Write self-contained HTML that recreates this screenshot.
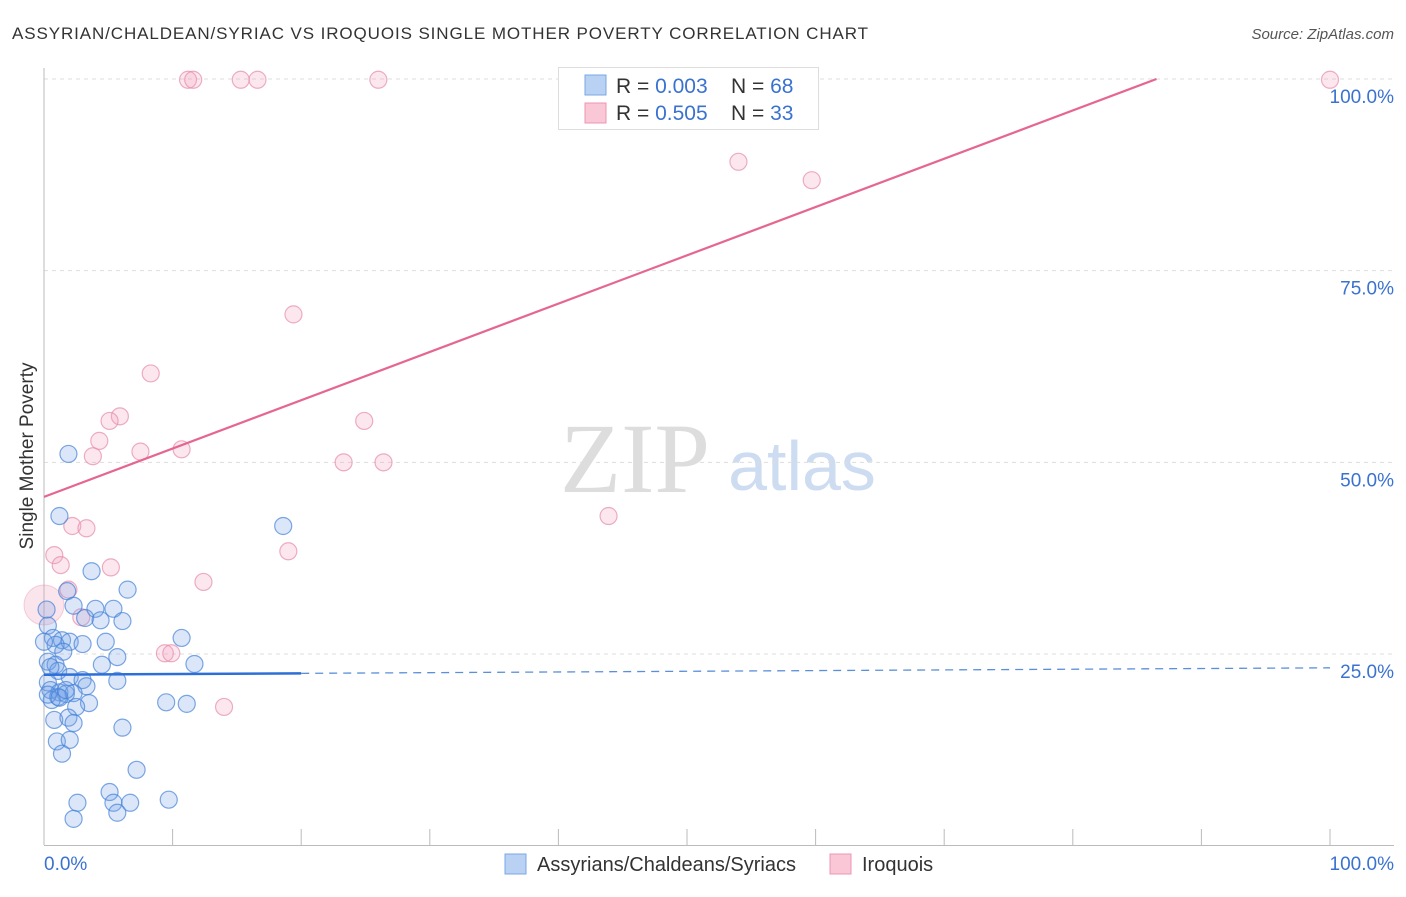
<!DOCTYPE html>
<html><head><meta charset="utf-8"><style>
body{margin:0;background:#fff;font-family:"Liberation Sans",sans-serif;}
svg text{font-family:"Liberation Sans",sans-serif;}
</style></head><body>
<svg id="chart" width="1406" height="892">
<text x="12" y="39" font-size="17" fill="#333" textLength="856">ASSYRIAN/CHALDEAN/SYRIAC VS IROQUOIS SINGLE MOTHER POVERTY CORRELATION CHART</text>
<text x="1394" y="39" font-size="15" fill="#555" font-style="italic" text-anchor="end">Source: ZipAtlas.com</text>
<text x="33" y="456" font-size="19" fill="#333" text-anchor="middle" transform="rotate(-90 33 456)">Single Mother Poverty</text>
<g><text x="635" y="492" font-size="100" fill="#ddd" text-anchor="middle" style="font-family:'Liberation Serif',serif">ZIP</text><text x="802" y="490" font-size="70" fill="#cddcf1" text-anchor="middle">atlas</text></g>
<g id="grid"></g><g id="ticks"></g><g id="pts"></g><g id="lines"></g>
<g>
<rect x="558.5" y="67.5" width="260" height="62" fill="#fff" stroke="#ddd"/>
<rect x="585" y="75" width="21" height="20" fill="#b9d2f4" stroke="#7ba7e6"/>
<rect x="585" y="103" width="21" height="20" fill="#f9c7d6" stroke="#ec95b0"/>
<text x="616" y="93" font-size="21" fill="#333">R = <tspan fill="#3a72d0">0.003</tspan></text>
<text x="731" y="93" font-size="21" fill="#333">N = <tspan fill="#3a72d0">68</tspan></text>
<text x="616" y="120" font-size="21" fill="#333">R = <tspan fill="#3a72d0">0.505</tspan></text>
<text x="731" y="120" font-size="21" fill="#333">N = <tspan fill="#3a72d0">33</tspan></text>
</g>
<g>
<rect x="505" y="854" width="21" height="20" fill="#b9d2f4" stroke="#7ba7e6"/>
<text x="537" y="871" font-size="20" fill="#333">Assyrians/Chaldeans/Syriacs</text>
<rect x="830" y="854" width="21" height="20" fill="#f9c7d6" stroke="#ec95b0"/>
<text x="862" y="871" font-size="20" fill="#333">Iroquois</text>
</g>
</svg>
<script>
const yTicks=[25,50,75,100];
const yTickLabels=["25.0%","50.0%","75.0%","100.0%"];
const xTickLabels=["0.0%","100.0%"];
const blueX=[1.9,1.2,3.7,6.5,1.8,2.3,4.0,5.4,3.2,4.4,6.1,0.3,0.7,1.4,2.0,0.9,3.0,4.8,10.7,1.5,5.7,0.3,0.9,4.5,11.7,1.1,2.0,3.0,0.3,3.3,5.7,0.5,1.2,1.7,2.3,1.1,0.6,3.5,2.5,9.5,11.1,0.8,1.9,2.3,6.1,1.0,2.0,1.4,7.2,5.1,2.6,5.4,6.7,9.7,2.3,5.7,18.6,0.2,0.3,0.5,0.0,1.2,1.7];
const blueY=[51.1,43.0,35.8,33.4,33.2,31.3,30.9,30.9,29.7,29.4,29.3,28.7,27.1,26.8,26.6,26.2,26.3,26.6,27.1,25.3,24.6,24.0,23.6,23.6,23.7,22.8,22.0,21.6,21.3,20.8,21.5,20.3,20.0,19.8,19.9,19.4,19.0,18.6,18.1,18.7,18.5,16.4,16.7,16.0,15.4,13.6,13.8,12.0,9.9,7.0,5.6,5.6,5.6,6.0,3.5,4.3,41.7,30.8,19.7,23.3,26.6,19.3,20.3];
const pinkX=[11.2,11.6,15.3,16.6,26.0,100,54.0,59.7,19.4,8.3,5.9,5.1,24.9,4.3,3.8,7.5,10.7,23.3,26.4,43.9,2.2,3.3,19.0,0.8,1.3,5.2,12.4,1.9,2.9,9.4,9.9,14.0];
const pinkY=[99.9,99.9,99.9,99.9,99.9,99.9,89.2,86.8,69.3,61.6,56.0,55.4,55.4,52.8,50.8,51.4,51.7,50.0,50.0,43.0,41.7,41.4,38.4,37.9,36.6,36.3,34.4,33.4,29.8,25.1,25.1,18.1];
const bigPink=[0.0,31.4];
const blueFit=[22.3,23.2];
const pinkFit=[45.5,0.63];
const X=v=>44+v*12.86, Y=v=>845.7-v*7.667;
const NS="http://www.w3.org/2000/svg";
function mk(t,a,p){const e=document.createElementNS(NS,t);for(const k in a)e.setAttribute(k,a[k]);p.appendChild(e);return e;}
const grid=document.getElementById('grid'),ticks=document.getElementById('ticks'),pts=document.getElementById('pts'),lines=document.getElementById('lines');
yTicks.forEach((t,i)=>{
 const l=mk('line',{x1:44,x2:1394,y1:Y(t),y2:Y(t),stroke:'#ddd','stroke-dasharray':'4,4'},grid);
 
 
 const tx=mk('text',{x:1394,y:Y(t)+24,'font-size':19,fill:'#3a72d0','text-anchor':'end'},ticks);
 tx.textContent=yTickLabels[i];
 
 
});
const ax=mk('line',{x1:44,x2:44,y1:68,y2:845,stroke:'#bbb'},ticks);


const bx=mk('line',{x1:44,x2:1394,y1:845.5,y2:845.5,stroke:'#bbb'},ticks);


for(let i=0;i<=10;i++){
 const t=mk('line',{x1:X(i*10),x2:X(i*10),y1:829,y2:845,stroke:'#bbb'},ticks);
 
 
}
[[0,'start',44],[100,'end',1394]].forEach((d,i)=>{
 const t=mk('text',{x:d[2],y:870,'font-size':19,fill:'#3a72d0','text-anchor':d[1]},ticks);
 t.textContent=xTickLabels[i];
 
 
});
const bp=mk('circle',{cx:X(bigPink[0]),cy:Y(bigPink[1]),r:20,fill:'rgba(240,150,180,0.25)',stroke:'rgba(232,140,170,0.4)'},pts);


pinkX.forEach((x,i)=>{
 const c=mk('circle',{cx:X(x),cy:Y(pinkY[i]),r:8.5,fill:'rgba(244,160,190,0.25)',stroke:'rgba(230,140,170,0.7)','stroke-width':1.2},pts);
 
 
});
blueX.forEach((x,i)=>{
 const c=mk('circle',{cx:X(x),cy:Y(blueY[i]),r:8.5,fill:'rgba(110,160,230,0.25)',stroke:'rgba(70,130,215,0.7)','stroke-width':1.2},pts);
 
 
});
const bs=(x)=>blueFit[0]+(blueFit[1]-blueFit[0])*x/100;
const b1=mk('line',{x1:X(0),y1:Y(bs(0)),x2:X(20),y2:Y(bs(20)),stroke:'#2d6fd6','stroke-width':2.5},lines);


const b2=mk('line',{x1:X(20),y1:Y(bs(20)),x2:X(100),y2:Y(bs(100)),stroke:'#5b8fd8','stroke-width':1.3,'stroke-dasharray':'8,6'},lines);


const pe=(100-pinkFit[0])/pinkFit[1];
const p1=mk('line',{x1:X(0),y1:Y(pinkFit[0]),x2:X(pe),y2:Y(100),stroke:'#e5668f','stroke-width':2.2},lines);


</script>
</body></html>
